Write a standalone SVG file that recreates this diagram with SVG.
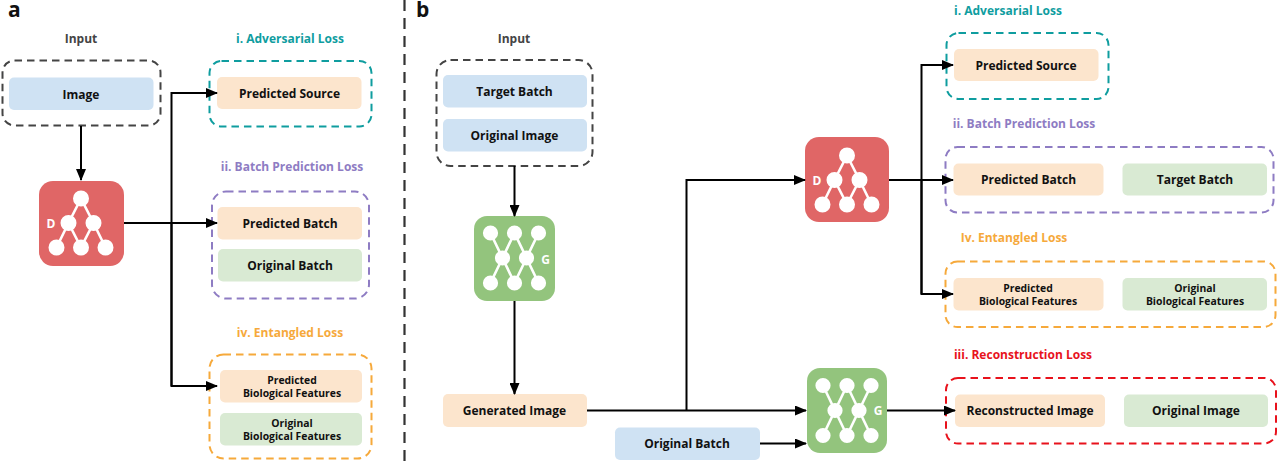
<svg xmlns="http://www.w3.org/2000/svg" width="1280" height="466" viewBox="0 0 1280 466">
<style>
text{font-family:"Open Sans","Noto Sans","Liberation Sans",sans-serif;font-weight:700;text-anchor:middle;dominant-baseline:central}
.lbl{font-size:12px;fill:#111}
.sm{font-size:10.4px;fill:#111}
.head{font-size:12px}
.panel{font-size:21px;fill:#111;text-anchor:start;dominant-baseline:auto}
.box{fill:none;stroke-width:2;stroke-dasharray:7.5 5}
.blue{fill:#cfe2f3}.peach{fill:#fce5cd}.green{fill:#d9ead3}
.con{fill:none;stroke:#000;stroke-width:2}
.icon{font-size:12px;fill:#fff}
.net{stroke:#fff;stroke-width:2.6;fill:#fff}
</style>
<defs>
<marker id="arr" viewBox="0 0 12 10" refX="11" refY="5" markerWidth="12" markerHeight="10" markerUnits="userSpaceOnUse" orient="auto"><path d="M0 0L12 5L0 10Z" fill="#000"/></marker>
<g id="dnet" class="net"><path d="M0-24.500L-12.500 0L-24.500 24.500M0-24.500L12.500 0L24.500 24.500M-12.500 0L0 24.500M12.500 0L0 24.500" fill="none"/><circle cy="-24.500" r="6.700"/><circle cx="-12.500" r="6.700"/><circle cx="12.500" r="6.700"/><circle cx="-24.500" cy="24.500" r="6.700"/><circle cy="24.500" r="6.700"/><circle cx="24.500" cy="24.500" r="6.700"/></g>
<g id="gnet" class="net"><path d="M-24-25L-12 0L-24 25M0-25L-12 0L0 25M0-25L12 0L0 25M24-25L12 0L24 25" fill="none"/><circle cx="-24" cy="-25" r="6.300"/><circle cy="-25" r="6.300"/><circle cx="24" cy="-25" r="6.300"/><circle cx="-12" r="6.300"/><circle cx="12" r="6.300"/><circle cx="-24" cy="25" r="6.300"/><circle cy="25" r="6.300"/><circle cx="24" cy="25" r="6.300"/></g>
</defs>
<rect width="1280" height="466" fill="#fff"/>
<text class="panel" x="8" y="17">a</text>
<text class="panel" x="416" y="17">b</text>
<path d="M404.500 0V466" fill="none" stroke="#333" stroke-width="2.200" stroke-dasharray="11 7"/>

<g id="a-input"><text class="head" x="81" y="38" fill="#444">Input</text><rect class="box" x="2.500" y="60.500" width="158" height="65" rx="12" stroke="#444"/></g>
<g id="a-image"><rect class="blue" x="9" y="77.500" width="144.500" height="32.500" rx="5"/><text class="lbl" x="81" y="94">Image</text></g>
<g id="a-adv"><text class="head" x="290" y="38" fill="#0f9d9f">i. Adversarial Loss</text><rect class="box" x="209.500" y="61" width="162" height="65.500" rx="12" stroke="#0f9d9f"/></g>
<g id="a-source"><rect class="peach" x="217" y="77" width="144.500" height="32" rx="5"/><text class="lbl" x="289.500" y="93">Predicted Source</text></g>
<g id="a-batch"><text class="head" x="292" y="166" fill="#8e7cc3">ii. Batch Prediction Loss</text><rect class="box" x="212" y="191.500" width="157" height="107" rx="14" stroke="#8e7cc3"/></g>
<g id="a-pred"><rect class="peach" x="217.500" y="207" width="144.500" height="32.500" rx="5"/><text class="lbl" x="290" y="223">Predicted Batch</text></g>
<g id="a-orig"><rect class="green" x="218" y="249" width="144" height="32.500" rx="5"/><text class="lbl" x="290" y="265.500">Original Batch</text></g>
<g id="a-ent"><text class="head" x="290" y="332" fill="#f6a93b">iv. Entangled Loss</text><rect class="box" x="209.500" y="354.500" width="162" height="104" rx="14" stroke="#f6a93b"/></g>
<g id="a-pbf"><rect class="peach" x="220" y="370" width="142" height="32.500" rx="5"/><text class="sm" x="292" y="380">Predicted</text><text class="sm" x="292" y="393">Biological Features</text></g>
<g id="a-obf"><rect class="green" x="220" y="413" width="142" height="32.500" rx="5"/><text class="sm" x="292" y="423">Original</text><text class="sm" x="292" y="436">Biological Features</text></g>
<g id="a-d"><rect x="39" y="181" width="85" height="85" rx="14" fill="#e06666"/><use href="#dnet" x="81" y="223"/><text class="icon" x="51" y="223">D</text></g>

<g id="b-input"><text class="head" x="514" y="38" fill="#444">Input</text><rect class="box" x="436.500" y="60" width="156" height="106" rx="14" stroke="#444"/></g>
<g id="b-target"><rect class="blue" x="443" y="75" width="144" height="32.500" rx="5"/><text class="lbl" x="514.500" y="91.500">Target Batch</text></g>
<g id="b-image"><rect class="blue" x="443" y="119" width="144" height="32.500" rx="5"/><text class="lbl" x="514.500" y="135.500">Original Image</text></g>
<g id="b-g1"><rect x="474" y="216" width="81" height="85" rx="13" fill="#93c47d"/><use href="#gnet" x="514.500" y="258"/><text class="icon" x="545.500" y="259">G</text></g>
<g id="b-gen"><rect class="peach" x="443" y="394" width="144" height="33" rx="5"/><text class="lbl" x="514.500" y="410.500">Generated Image</text></g>
<g id="b-origbatch"><rect class="blue" x="615" y="427.500" width="145" height="32.500" rx="5"/><text class="lbl" x="687" y="443.500">Original Batch</text></g>
<g id="b-d"><rect x="805" y="137" width="84" height="85" rx="14" fill="#e06666"/><use href="#dnet" x="847" y="180"/><text class="icon" x="817" y="180">D</text></g>
<g id="b-g2"><rect x="807" y="368" width="80" height="85" rx="13" fill="#93c47d"/><use href="#gnet" x="847" y="410.500"/><text class="icon" x="878" y="410.500">G</text></g>

<g id="b-adv"><text class="head" x="1008" y="10" fill="#0f9d9f">i. Adversarial Loss</text><rect class="box" x="946.500" y="33" width="162" height="66" rx="12" stroke="#0f9d9f"/></g>
<g id="b-source"><rect class="peach" x="954" y="49" width="144.500" height="32" rx="5"/><text class="lbl" x="1026" y="65">Predicted Source</text></g>
<g id="b-batch"><text class="head" x="1024" y="123" fill="#8e7cc3">ii. Batch Prediction Loss</text><rect class="box" x="945.500" y="147" width="328" height="65.500" rx="12" stroke="#8e7cc3"/></g>
<g id="b-pred"><rect class="peach" x="953.500" y="163.500" width="150" height="32" rx="5"/><text class="lbl" x="1028.500" y="179.500">Predicted Batch</text></g>
<g id="b-tgt"><rect class="green" x="1122.500" y="163.500" width="144.500" height="32" rx="5"/><text class="lbl" x="1195" y="179.500">Target Batch</text></g>
<g id="b-ent"><text class="head" x="1014" y="237" fill="#f6a93b">Iv. Entangled Loss</text><rect class="box" x="945.500" y="261.500" width="330" height="65.500" rx="12" stroke="#f6a93b"/></g>
<g id="b-pbf"><rect class="peach" x="953.500" y="278" width="150" height="32.500" rx="5"/><text class="sm" x="1028" y="288">Predicted</text><text class="sm" x="1028" y="301">Biological Features</text></g>
<g id="b-obf"><rect class="green" x="1122.500" y="278" width="144.500" height="32.500" rx="5"/><text class="sm" x="1195" y="288">Original</text><text class="sm" x="1195" y="301">Biological Features</text></g>
<g id="b-rec"><text class="head" x="1023" y="354" fill="#e8121c">iii. Reconstruction Loss</text><rect class="box" x="946" y="378" width="330" height="65.500" rx="12" stroke="#e8121c"/></g>
<g id="b-recimg"><rect class="peach" x="955" y="394.500" width="150" height="32.500" rx="5"/><text class="lbl" x="1030" y="410.500">Reconstructed Image</text></g>
<g id="b-origimg"><rect class="green" x="1124" y="394.500" width="144" height="32.500" rx="5"/><text class="lbl" x="1196" y="410.500">Original Image</text></g>

<g id="connectors">
<path class="con" d="M81 126V180" marker-end="url(#arr)"/>
<path class="con" d="M124 223H217" marker-end="url(#arr)"/>
<path class="con" d="M171.500 386V93H217" marker-end="url(#arr)"/>
<path class="con" d="M171.500 223V386H217" marker-end="url(#arr)"/>
<path class="con" d="M514.500 166V216" marker-end="url(#arr)"/>
<path class="con" d="M514.500 301V394" marker-end="url(#arr)"/>
<path class="con" d="M587 410.500H806" marker-end="url(#arr)"/>
<path class="con" d="M686.500 410.500V180H805" marker-end="url(#arr)"/>
<path class="con" d="M760 443.500H806" marker-end="url(#arr)"/>
<path class="con" d="M887 410.500H955" marker-end="url(#arr)"/>
<path class="con" d="M889 180H953" marker-end="url(#arr)"/>
<path class="con" d="M921.500 294V65H953" marker-end="url(#arr)"/>
<path class="con" d="M921.500 180V294H953" marker-end="url(#arr)"/>
</g>
</svg>
